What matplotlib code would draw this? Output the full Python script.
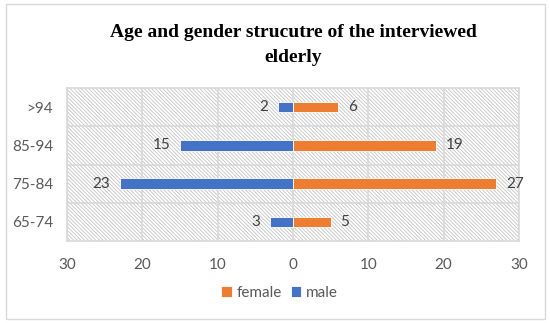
import matplotlib.pyplot as plt
from matplotlib.patches import Rectangle

ages = ['65-74', '75-84', '85-94', '>94']
male = [3, 23, 15, 2]
female = [5, 27, 19, 6]
ticks = [-30, -20, -10, 0, 10, 20, 30]

blue = '#4472C4'
orange = '#ED7D31'
grey = '#595959'

plt.rcParams['font.family'] = ['Lato', 'DejaVu Sans']
plt.rcParams['hatch.linewidth'] = 0.6
plt.rcParams['hatch.color'] = '#c4c4c4'

fig = plt.figure(figsize=(5.5, 3.23), dpi=100)
fig.patches.append(Rectangle((0.011, 0.012), 0.98, 0.976, transform=fig.transFigure,
                             fill=False, edgecolor='#d9d9d9', linewidth=1))
ax = fig.add_axes([67 / 550, 1 - 241 / 323, 452 / 550, 153 / 323])

# hatched background
ax.add_patch(Rectangle((0, 0), 1, 1, transform=ax.transAxes, facecolor='white',
                       edgecolor='#c4c4c4', hatch='\\' * 9, linewidth=0, zorder=0))

y = range(len(ages))
ax.barh(y, female, height=0.28, color=orange, edgecolor='white', linewidth=0.6, zorder=3, label='female')
ax.barh(y, [-m for m in male], height=0.28, color=blue, edgecolor='white', linewidth=0.6, zorder=3, label='male')

for i in y:
    ax.text(female[i] + 1.3, i, str(female[i]), va='center', ha='left', fontsize=11, color='#404040')
    ax.text(-male[i] - 1.3, i, str(male[i]), va='center', ha='right', fontsize=11, color='#404040')

ax.set_xlim(-30, 30)
ax.set_ylim(-0.5, 3.5)
ax.set_xticks(ticks)
ax.set_xticklabels([str(abs(t)) for t in ticks])
ax.set_yticks(list(y))
ax.set_yticklabels(ages)
ax.tick_params(length=0, labelsize=11, labelcolor=grey, pad=10)
ax.tick_params(axis='x', pad=12)

for t in ticks:
    ax.axvline(t, color='#d9d9d9', linewidth=1.2, zorder=1)
for b in [0.5, 1.5, 2.5]:
    ax.axhline(b, color='#d9d9d9', linewidth=1.2, zorder=1)
for s in ax.spines.values():
    s.set_color('#d9d9d9')
    s.set_linewidth(1.2)

fig.text(293 / 550, 1 - 45 / 323, 'Age and gender strucutre of the interviewed\nelderly',
         ha='center', va='center', fontsize=14, fontweight='bold',
         family=['Liberation Serif'], linespacing=1.55)

ax.legend(loc='center', bbox_to_anchor=(0.47, -0.34), ncol=2, frameon=False,
          fontsize=11, labelcolor=grey, handlelength=0.7, handleheight=0.7,
          handletextpad=0.3, columnspacing=0.6)

fig.savefig('out.png', dpi=100)
